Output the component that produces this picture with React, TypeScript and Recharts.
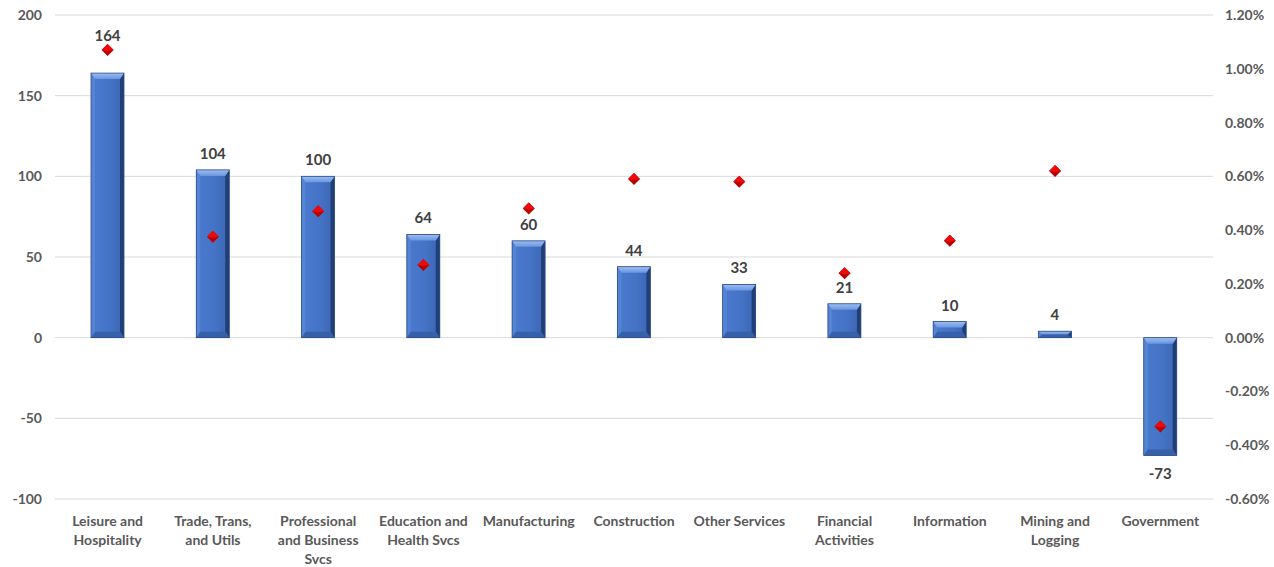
import React from 'react'
import { ComposedChart, Bar, Line, XAxis, YAxis, CartesianGrid, LabelList } from 'recharts'

// sector names, manual line breaks as in the source chart
const categories = [
  'Leisure and\nHospitality',
  'Trade, Trans,\nand Utils',
  'Professional\nand Business\nSvcs',
  'Education and\nHealth Svcs',
  'Manufacturing',
  'Construction',
  'Other Services',
  'Financial\nActivities',
  'Information',
  'Mining and\nLogging',
  'Government',
]

// job change (thousands), left axis
const jobChange = [164, 104, 100, 64, 60, 44, 33, 21, 10, 4, -73]

// percent change, right axis
const pctChange = [1.07, 0.375, 0.47, 0.27, 0.48, 0.59, 0.58, 0.24, 0.36, 0.62, -0.33]

const leftTicks = [-100, -50, 0, 50, 100, 150, 200]
const rightTicks = [-0.6, -0.4, -0.2, 0, 0.2, 0.4, 0.6, 0.8, 1.0, 1.2]

const LEFT_DOMAIN = [-100, 200]
const RIGHT_DOMAIN = [-0.6, 1.2]
// both axes share the zero line, so a percent maps onto left units by this ratio
const PCT_TO_LEFT = (LEFT_DOMAIN[1] - LEFT_DOMAIN[0]) / (RIGHT_DOMAIN[1] - RIGHT_DOMAIN[0])

const FONT = 'Lato, "Open Sans", sans-serif'
const TEXT = '#595959'

const data = categories.map((name, i) => ({
  name,
  jobs: jobChange[i],
  pct: pctChange[i],
}))

// bevelled blue column, roughly like Excel's "bevel" effect
const BevelBar = (props: any) => {
  let { x, y, width: w, height: h } = props
  if (h < 0) {
    y = y + h
    h = -h
  }
  if (!w || !h) return null
  const b = Math.min(6, h / 2)
  const s = 4
  return (
    <g>
      <rect x={x} y={y} width={w} height={h} fill="url(#barBody)" />
      <polygon points={`${x},${y} ${x + s},${y + b} ${x + s},${y + h - b} ${x},${y + h}`} fill="#5584d4" />
      <polygon points={`${x + w},${y} ${x + w - s},${y + b} ${x + w - s},${y + h - b} ${x + w},${y + h}`} fill="#223f75" />
      <polygon points={`${x},${y} ${x + w},${y} ${x + w - s},${y + b} ${x + s},${y + b}`} fill="url(#barTop)" />
      <polygon points={`${x},${y + h} ${x + w},${y + h} ${x + w - s},${y + h - b} ${x + s},${y + h - b}`} fill="#3660a8" />
      <rect x={x} y={y} width={w} height={h} fill="none" stroke="#2b4c8a" strokeWidth={0.8} />
    </g>
  )
}

const Diamond = (props: any) => {
  const { cx, cy } = props
  if (cx == null || cy == null) return null
  const r = 6
  return (
    <g>
      <polygon points={`${cx},${cy - r} ${cx + r},${cy} ${cx},${cy + r} ${cx - r},${cy}`} fill="#b80000" />
      <polygon points={`${cx},${cy - r} ${cx + r},${cy} ${cx},${cy + 1} ${cx - r},${cy}`} fill="#ee0a0a" />
    </g>
  )
}

const ValueLabel = (props: any) => {
  const { x, y, width, height, value, index } = props
  const top = height < 0 ? y + height : y
  const bottom = height < 0 ? y : y + height
  let ty = value >= 0 ? top - 11 : bottom + 24
  // if the marker sits just above the column, lift the label over the marker
  if (value > 0 && height !== 0) {
    const pctLeft = pctChange[index] * PCT_TO_LEFT
    if (pctLeft > value && pctLeft - value < 18) {
      const ppu = Math.abs(height) / value
      const zeroY = bottom
      ty = zeroY - pctLeft * ppu - 9
    }
  }
  return (
    <text x={x + width / 2} y={ty} textAnchor="middle" fill="#404040" fontFamily={FONT} fontSize={15} fontWeight={700}>
      {value}
    </text>
  )
}

const CategoryTick = (props: any) => {
  const { x, y, payload } = props
  const lines = String(payload.value).split('\n')
  return (
    <text x={x} y={y} textAnchor="middle" fill={TEXT} fontFamily={FONT} fontSize={14} fontWeight={700}>
      {lines.map((ln, i) => (
        <tspan key={i} x={x} dy={i === 0 ? 19 : 19}>{ln}</tspan>
      ))}
    </text>
  )
}

export default function App() {
  return (
    <div style={{ position: 'fixed', left: 0, top: 0, width: 1274, height: 567, background: '#fff' }}>
      <ComposedChart
        width={1274}
        height={567}
        data={data}
        margin={{ top: 15, right: 0, bottom: 0, left: 0 }}
      >
        <defs>
          <linearGradient id="barBody" x1="0" y1="0" x2="1" y2="0">
            <stop offset="0%" stopColor="#4a7bd1" />
            <stop offset="60%" stopColor="#4472c4" />
            <stop offset="100%" stopColor="#3a64b0" />
          </linearGradient>
          <linearGradient id="barTop" x1="0" y1="0" x2="0" y2="1">
            <stop offset="0%" stopColor="#9dbdf2" />
            <stop offset="100%" stopColor="#6a96e0" />
          </linearGradient>
        </defs>
        <CartesianGrid yAxisId="left" vertical={false} stroke="#d9d9d9" strokeWidth={1} />
        <XAxis
          dataKey="name"
          axisLine={false}
          tickLine={false}
          height={68}
          interval={0}
          tick={<CategoryTick />}
        />
        <YAxis
          yAxisId="left"
          orientation="left"
          width={55}
          domain={LEFT_DOMAIN}
          ticks={leftTicks}
          axisLine={false}
          tickLine={false}
          tickSize={0}
          tickMargin={13}
          tick={{ fill: TEXT, fontFamily: FONT, fontSize: 14, fontWeight: 700 }}
        />
        <YAxis
          yAxisId="right"
          orientation="right"
          width={61}
          domain={RIGHT_DOMAIN}
          ticks={rightTicks}
          axisLine={false}
          tickLine={false}
          tickSize={0}
          tickMargin={12}
          tickFormatter={(v: number) => `${v.toFixed(2)}%`}
          tick={{ fill: TEXT, fontFamily: FONT, fontSize: 14, fontWeight: 700, textAnchor: 'start' }}
        />
        <Bar yAxisId="left" dataKey="jobs" barSize={33} shape={<BevelBar />} isAnimationActive={false}>
          <LabelList dataKey="jobs" content={<ValueLabel />} />
        </Bar>
        <Line
          yAxisId="right"
          dataKey="pct"
          stroke="none"
          dot={<Diamond />}
          activeDot={false}
          isAnimationActive={false}
        />
      </ComposedChart>
    </div>
  )
}
